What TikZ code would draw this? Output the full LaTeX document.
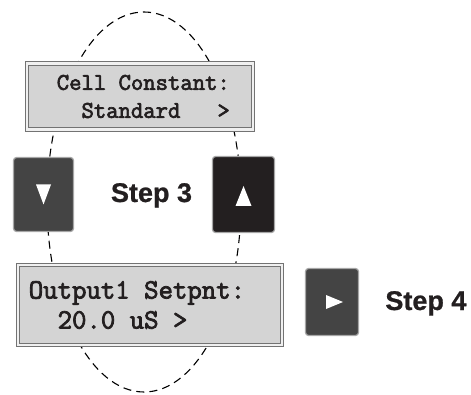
\documentclass[tikz,border=0pt]{standalone}
\usepackage{fontspec}
\usepackage{tikz}
\usetikzlibrary{positioning}
\newfontfamily\stepfont[BoldFeatures={FakeBold=0.8}]{Liberation Sans}
\newfontfamily\lcdfont[FakeBold=2.8]{Latin Modern Mono}
\definecolor{lcdgray}{RGB}{212,212,212}
\definecolor{btngray}{RGB}{68,68,68}
\definecolor{btnblack}{RGB}{35,31,32}
\definecolor{inkcol}{RGB}{35,31,32}

\begin{document}
\begin{tikzpicture}[x=0.5pt,y=-0.5pt,
	lcd/.style={draw=black!55,double=black!6,double distance=1.1pt,line width=0.6pt,fill=lcdgray,inner sep=0},
	button/.style={rounded corners=1.5pt,draw=black!35,line width=0.6pt,inner sep=0},
	lcdtext/.style={text=inkcol,align=left,inner sep=0,anchor=west},
	steplabel/.style={font=\stepfont\bfseries\fontsize{13.5}{15}\selectfont,text=inkcol,inner sep=0},
	loopline/.style={dash pattern=on 4pt off 2.6pt,line width=0.55pt}]
		
		\useasboundingbox (0,0) rectangle (471,395);
		
		% dashed loop, behind the displays and keys
		\draw[loopline] (144,202) ellipse [x radius=48.5pt, y radius=95pt];
		
		\node[lcd,minimum width=113pt,minimum height=33pt] (lcdTop) at (140,96.5) {};
		\node[lcd,minimum width=132pt,minimum height=40pt] (lcdBot) at (150,305) {};
		
		\node[lcdtext,font=\lcdfont\fontsize{12}{14}\selectfont] (cellText) at ([xshift=15pt]lcdTop.west) {Cell Constant:\\~~Standard~~~>};
		\node[lcdtext,font=\lcdfont\fontsize{14}{15}\selectfont] (setText) at ([xshift=5.5pt]lcdBot.west) {Output1 Setpnt:\\~~20.0 uS >};
		
		\node[button,fill=btngray,minimum width=30pt,minimum height=37pt] (btnDown) at (43.5,194.5) {};
		\node[button,fill=btnblack,minimum width=31pt,minimum height=38pt] (btnUp) at (243.5,194.5) {};
		\node[button,fill=btngray,minimum width=26.5pt,minimum height=33.5pt] (btnRight) at (332,302) {};
		
		\fill[white] ([shift={(-3.75pt,5pt)}]btnDown.center) -- ++(7.5pt,0) -- ++(-3.75pt,-10pt) -- cycle;
		\fill[white] ([shift={(-4pt,-5.75pt)}]btnUp.center) -- ++(8pt,0) -- ++(-4pt,10pt) -- cycle;
		\fill[white] ([shift={(-3pt,3.5pt)}]btnRight.center) -- ++(0,-7pt) -- ++(8.5pt,3.5pt) -- cycle;
		
		\node[steplabel,anchor=base] (stepThree) at (151.5,202) {Step 3};
		\node[steplabel,anchor=base west] (stepFour) at (385,310) {Step 4};
		
	\end{tikzpicture}
\end{document}
